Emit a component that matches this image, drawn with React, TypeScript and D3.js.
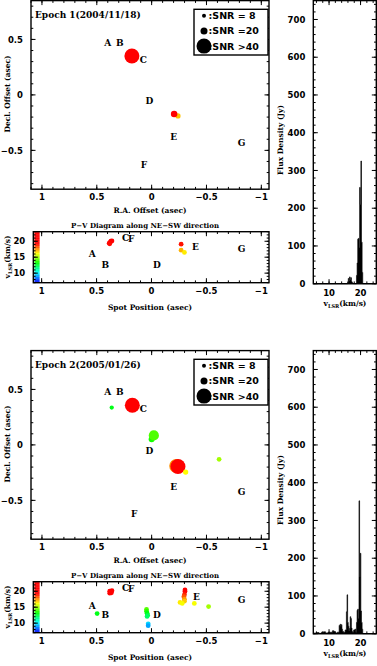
import React from "react"
import * as d3 from "d3"

/** Page and block layout */
const W = 377
const H = 666
const BLOCK = 350

/** Texts */
const epochTitles = ["Epoch 1(2004/11/18)", "Epoch 2(2005/01/26)"]
const legendSnr = [8, 20, 45]
const legendText = [":SNR = 8", ":SNR =20", ":SNR >40"]
const labelNames = ["A", "B", "C", "D", "E", "F", "G"]

/** Epoch 1 spots on the sky: RA offset, Dec offset, SNR, vLSR */
const spotRa1 = [-0.24, -0.205, 0.18]
const spotDec1 = [-0.19, -0.172, 0.35]
const spotSnr1 = [13, 18, 45]
const spotVel1 = [17.0, 19.3, 20.0]

/** Epoch 2 spots on the sky */
const spotRa2 = [0.364, 0.0, -0.02, -0.615, -0.225, -0.24, -0.31, 0.176]
const spotDec2 = [0.336, 0.05, 0.085, -0.13, -0.19, -0.195, -0.245, 0.357]
const spotSnr2 = [9, 16, 28, 11, 38, 45, 13, 45]
const spotVel2 = [13.0, 13.5, 14.2, 15.2, 17.6, 19.8, 16.3, 19.8]

/** P-V spots: projected position, vLSR */
const pvPos1 = [0.385, 0.37, 0.375, 0.36, 0.38, -0.27, -0.27, -0.30]
const pvVel1 = [19.4, 20.0, 19.7, 20.1, 19.2, 19.1, 17.2, 16.5]
const pvPos2 = [0.38, 0.37, 0.36, 0.38, 0.365, 0.495, 0.045, 0.045, 0.04, 0.035, 0.04, 0.03, 0.03,
	-0.305, -0.305, -0.3, -0.295, -0.3, -0.3, -0.26, -0.28, -0.39, -0.52]
const pvVel2 = [19.4, 19.8, 20.2, 20.0, 19.5, 13.0, 14.3, 13.7, 13.1, 12.5, 12.1, 9.8, 9.2,
	20.4, 19.9, 18.9, 18.3, 17.5, 16.9, 16.5, 16.2, 16.2, 15.2]

/** Component labels (A..G) on the maps */
const mapLabelRa1 = [0.4, 0.29, 0.075, 0.02, -0.2, 0.07, -0.82]
const mapLabelDec1 = [0.47, 0.47, 0.32, -0.05, -0.38, -0.63, -0.43]
const mapLabelRa2 = [0.4, 0.29, 0.075, 0.02, -0.2, 0.16, -0.82]
const mapLabelDec2 = [0.477, 0.477, 0.327, -0.05, -0.375, -0.62, -0.42]

/** Component labels in the P-V diagrams */
const pvLabelPos1 = [0.54, 0.42, 0.235, -0.05, -0.4, 0.185, -0.82]
const pvLabelVel1 = [16.0, 12.6, 21.1, 12.6, 18.4, 20.9, 17.7]
const pvLabelPos2 = [0.54, 0.42, 0.235, -0.05, -0.41, 0.185, -0.82]
const pvLabelVel2 = [15.6, 12.5, 21.1, 12.5, 18.4, 20.9, 17.5]

/** Spectra: channel velocity (km/s) and flux density (Jy) */
const specVel1 = [5, 15.8, 16.0, 16.2, 16.4, 16.6, 16.8, 17.0, 17.2, 17.4, 17.6, 17.8, 18.6, 18.8, 19.0, 19.2, 19.4,
	19.6, 19.8, 20.0, 20.2, 20.4, 20.6, 20.8, 25]
const specFlux1 = [0, 0, 3, 14, 8, 18, 10, 16, 6, 3, 1, 0, 0, 22, 55, 118, 120, 95, 255, 210, 325, 110, 30, 0, 0]
const specVel2 = [5, 5.6, 6.4, 7.2, 8.0, 8.6, 9.2, 10.0, 10.8, 11.4, 11.6, 12.2, 13.0, 13.4, 13.6, 13.8, 14.0, 14.2,
	14.4, 14.8, 15.4, 15.6, 15.8, 16.0, 16.2, 16.4, 16.6, 16.8, 17.0, 17.2, 17.4, 17.6, 18.0, 18.4, 18.6, 18.8, 19.0,
	19.2, 19.4, 19.6, 19.8, 20.0, 20.2, 20.4, 20.6, 20.8, 25]
const specFlux2 = [0, 2, 3, 1, 4, 5, 2, 3, 4, 8, 6, 2, 4, 22, 25, 20, 24, 12, 6, 4, 10, 58, 103, 30, 20, 8, 14, 45,
	40, 15, 6, 4, 10, 12, 4, 30, 62, 65, 40, 352, 150, 213, 60, 30, 12, 0, 0]

const epochs = [
	{
		title: epochTitles[0], spotRa: spotRa1, spotDec: spotDec1, spotSnr: spotSnr1, spotVel: spotVel1,
		pvPos: pvPos1, pvVel: pvVel1, mapLabelRa: mapLabelRa1, mapLabelDec: mapLabelDec1,
		pvLabelPos: pvLabelPos1, pvLabelVel: pvLabelVel1, specVel: specVel1, specFlux: specFlux1,
	},
	{
		title: epochTitles[1], spotRa: spotRa2, spotDec: spotDec2, spotSnr: spotSnr2, spotVel: spotVel2,
		pvPos: pvPos2, pvVel: pvVel2, mapLabelRa: mapLabelRa2, mapLabelDec: mapLabelDec2,
		pvLabelPos: pvLabelPos2, pvLabelVel: pvLabelVel2, specVel: specVel2, specFlux: specFlux2,
	},
]

/** Fonts */
const serif = "'DejaVu Serif', serif"
const sans = "'DejaVu Sans', sans-serif"

/** Velocity -> rainbow colour, SNR -> spot radius */
const hue = d3.scaleLinear().domain([7.5, 19.3]).range([235, 0]).clamp(true)
const velColor = (v: number) => d3.hsl(hue(v), 1, 0.5).toString()
const snrRadius = d3.scaleLinear().domain([8, 20, 40]).range([2, 3.5, 7.5]).clamp(true)

/** Scales (y is relative to the block top) */
const mapX = d3.scaleLinear().domain([1.1, -1.07]).range([31, 269])
const mapY = d3.scaleLinear().domain([-0.85, 0.85]).range([189.2, 0.6])
const pvX = d3.scaleLinear().domain([1.076, -1.07]).range([33.3, 269])
const pvY = d3.scaleLinear().domain([7, 23]).range([282.7, 231.7])
const spX = d3.scaleLinear().domain([5, 25]).range([313.3, 376.3])
const spY = d3.scaleLinear().domain([0, 750]).range([283.7, 0.6])

const tickVals = (scale: any, step: number) => {
	const [a, b] = d3.extent(scale.domain() as number[]) as [number, number]
	const out: number[] = []
	for (let k = Math.ceil(a / step - 1e-9); k * step <= b + 1e-9; k++) out.push(+(k * step).toFixed(6))
	return out
}
const fmt = (v: number) => (v < 0 ? "\u2212" : "") + Math.abs(v)

/** PGPLOT-style box: frame, inward ticks on all four sides, labels bottom and left */
const Box = ({ x, y, xMajor, xMinor, yMajor, yMinor, xLabelDy = 11 }: any) => {
	const [x0, x1] = x.range()
	const [y0, y1] = [y.range()[1], y.range()[0]]
	const maj = 4.5
	const mnr = 2.3
	return (
		<g stroke="#000" strokeWidth={1}>
			{tickVals(x, xMinor).map(v => (
				<g key={"xm" + v}>
					<line x1={x(v)} x2={x(v)} y1={y1} y2={y1 - mnr} />
					<line x1={x(v)} x2={x(v)} y1={y0} y2={y0 + mnr} />
				</g>
			))}
			{tickVals(y, yMinor).map(v => (
				<g key={"ym" + v}>
					<line x1={x0} x2={x0 + mnr} y1={y(v)} y2={y(v)} />
					<line x1={x1} x2={x1 - mnr} y1={y(v)} y2={y(v)} />
				</g>
			))}
			{tickVals(x, xMajor).map(v => (
				<g key={"xM" + v}>
					<line x1={x(v)} x2={x(v)} y1={y1} y2={y1 - maj} />
					<line x1={x(v)} x2={x(v)} y1={y0} y2={y0 + maj} />
					<text x={x(v)} y={y1 + xLabelDy} textAnchor="middle" stroke="none" fontFamily={sans}
						fontWeight="bold" fontSize={8.5}>{fmt(v)}</text>
				</g>
			))}
			{tickVals(y, yMajor).map(v => (
				<g key={"yM" + v}>
					<line x1={x0} x2={x0 + maj} y1={y(v)} y2={y(v)} />
					<line x1={x1} x2={x1 - maj} y1={y(v)} y2={y(v)} />
					<text x={x0 - 8} y={y(v) + 3.2} textAnchor="end" stroke="none" fontFamily={sans}
						fontWeight="bold" fontSize={8.5}>{fmt(v)}</text>
				</g>
			))}
			<rect x={x0} y={y0} width={x1 - x0} height={y1 - y0} fill="none" strokeWidth={1.4} />
		</g>
	)
}

const Epoch = ({ e, top }: any) => {
	const specArea = d3.area<number>()
		.x((_, i) => spX(e.specVel[i]))
		.y0(spY(0))
		.y1(d => spY(d))
		.curve(d3.curveStep)
	const bar = d3.range(7, 23, 0.2)
	return (
		<g transform={`translate(0, ${top})`}>
			{/* sky map */}
			<g>
				{e.spotRa.map((ra: number, i: number) => (
					<circle key={i} cx={mapX(ra)} cy={mapY(e.spotDec[i])} r={snrRadius(e.spotSnr[i])}
						fill={velColor(e.spotVel[i])} />
				))}
				{labelNames.map((n, i) => (
					<text key={n} x={mapX(e.mapLabelRa[i])} y={mapY(e.mapLabelDec[i]) + 3.3} textAnchor="middle"
						fontFamily={serif} fontWeight="bold" fontSize={9}>{n}</text>
				))}
				<Box x={mapX} y={mapY} xMajor={0.5} xMinor={0.1} yMajor={0.5} yMinor={0.1} />
				<text x={35} y={17.5} fontFamily={serif} fontWeight="bold" fontSize={9}>{e.title}</text>
				<rect x={194} y={9.3} width={74} height={45.7} fill="#fff" stroke="#000" strokeWidth={1.4} />
				{legendSnr.map((s, i) => (
					<g key={s}>
						<circle cx={204} cy={15.7 + i * 15.2} r={snrRadius(s)} fill="#000" />
						<text x={208.5} y={15.7 + i * 15.2 + 3.5} fontFamily={sans} fontWeight="bold" fontSize={9.5}>
							{legendText[i]}
						</text>
					</g>
				))}
				<text x={150} y={213} textAnchor="middle" fontFamily={serif} fontWeight="bold" fontSize={7.5}>
					R.A. Offset (asec)
				</text>
				<text transform={`translate(10, 94) rotate(-90)`} textAnchor="middle" fontFamily={serif}
					fontWeight="bold" fontSize={7.5}>Decl. Offset (asec)</text>
			</g>

			{/* P-V diagram */}
			<g>
				<text x={145} y={227.5} textAnchor="middle" fontFamily={serif} fontWeight="bold" fontSize={7}>
					P{"\u2212"}V Diagram along NE{"\u2212"}SW direction
				</text>
				{bar.map(v => (
					<rect key={v} x={34.5} width={5} y={pvY(v + 0.2)} height={pvY(v) - pvY(v + 0.2) + 0.3}
						fill={velColor(v + 0.1)} />
				))}
				{e.pvPos.map((p: number, i: number) => (
					<circle key={i} cx={pvX(p)} cy={pvY(e.pvVel[i])} r={2.4} fill={velColor(e.pvVel[i])} />
				))}
				{labelNames.map((n, i) => (
					<text key={n} x={pvX(e.pvLabelPos[i])} y={pvY(e.pvLabelVel[i]) + 3.3} textAnchor="middle"
						fontFamily={serif} fontWeight="bold" fontSize={9}>{n}</text>
				))}
				<Box x={pvX} y={pvY} xMajor={0.5} xMinor={0.1} yMajor={5} yMinor={1} />
				<text x={150} y={310} textAnchor="middle" fontFamily={serif} fontWeight="bold" fontSize={7.5}>
					Spot Position (asec)
				</text>
				<text transform={`translate(10, 257) rotate(-90)`} textAnchor="middle" fontFamily={serif}
					fontWeight="bold" fontSize={7.5}>
					v<tspan fontSize={5} dy={2}>LSR</tspan><tspan dy={-2}>(km/s)</tspan>
				</text>
			</g>

			{/* spectrum */}
			<g>
				<path d={specArea(e.specFlux) || ""} fill="#000" stroke="#000" strokeWidth={0.6} />
				<Box x={spX} y={spY} xMajor={10} xMinor={2} yMajor={100} yMinor={20} xLabelDy={12} />
				<text transform={`translate(283, 140) rotate(-90)`} textAnchor="middle" fontFamily={serif}
					fontWeight="bold" fontSize={7.5}>Flux Density (Jy)</text>
				<text x={345} y={306} textAnchor="middle" fontFamily={serif} fontWeight="bold" fontSize={7.5}>
					v<tspan fontSize={5} dy={2}>LSR</tspan><tspan dy={-2}>(km/s)</tspan>
				</text>
			</g>
		</g>
	)
}

export default function App() {
	return (
		<svg width={W} height={H} style={{ position: "absolute", left: 0, top: 0, background: "#fff" }}>
			<rect width={W} height={H} fill="#fff" />
			{epochs.map((e, i) => (
				<Epoch key={i} e={e} top={i * BLOCK} />
			))}
		</svg>
	)
}
